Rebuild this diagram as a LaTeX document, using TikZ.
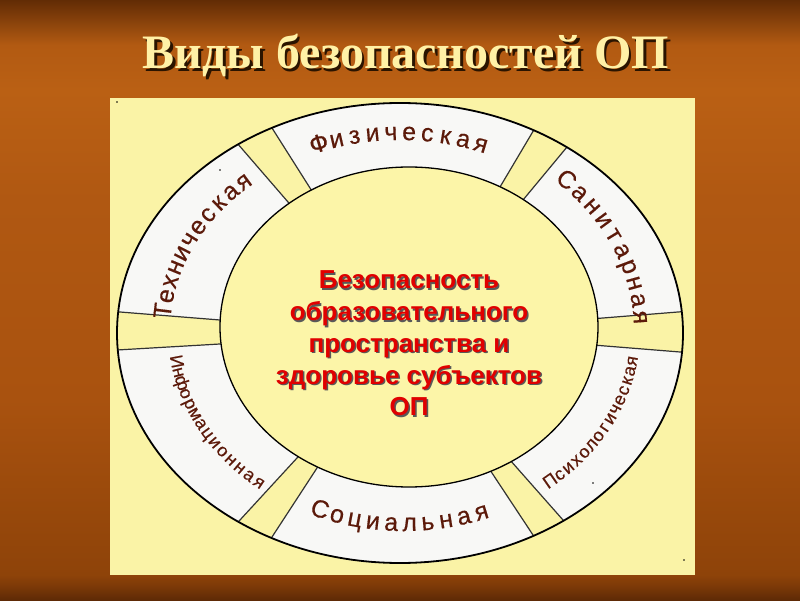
\documentclass[tikz,border=0pt]{standalone}
\usepackage{fontspec}
\setmainfont{Liberation Serif}
\newfontfamily\arialf{Liberation Sans}
\newfontfamily\lblf[FakeBold=0.4]{Liberation Sans}
\usetikzlibrary{calc}

\definecolor{b0}{HTML}{5E2A06}
\definecolor{b1}{HTML}{7E3A08}
\definecolor{b2}{HTML}{8E4309}
\definecolor{b3}{HTML}{A9520F}
\definecolor{b4}{HTML}{B05812}
\definecolor{b5}{HTML}{BA6014}
\definecolor{b6}{HTML}{B25A12}
\definecolor{b7}{HTML}{622C05}
\definecolor{panelY}{HTML}{FAF3A6}
\definecolor{innerY}{HTML}{FCF5A8}
\definecolor{segW}{HTML}{F8F8F6}
\definecolor{lblC}{HTML}{5C1A0A}
\definecolor{redT}{HTML}{E00000}
\definecolor{titleY}{HTML}{FFF1A6}
\definecolor{titleS}{HTML}{2A1400}

\pgfdeclareverticalshading{bgshade}{100bp}{color(0bp)=(b0); color(25bp)=(b0); color(26.25bp)=(b1); color(27.1bp)=(b2); color(41.7bp)=(b3); color(58.3bp)=(b4); color(67.5bp)=(b5); color(71.25bp)=(b6); color(75bp)=(b7); color(100bp)=(b7)}

\newcommand\fontbig{\lblf\fontsize{25}{25}\selectfont}
\newcommand\fontsmall{\lblf\fontsize{18}{18}\selectfont}
\newcommand\lbltrack{4}

% #1 font macro, #2 cx, #3 cy, #4 rx, #5 ry, #6 t0 (first letter centre), #7 t1 (last letter centre), #8 letters, #9 name
\newcommand\ringlabel[9]{%
  \gdef\mycum{0}%
  \foreach \ch [count=\k] in {#8} {%
    \setbox0=\hbox{#1\ch}%
    \pgfmathsetmacro\tmpw{\the\wd0}%
    \pgfmathsetmacro\tmpc{\mycum+\tmpw/2}%
    \expandafter\xdef\csname lc#9\k\endcsname{\tmpc}%
    \pgfmathsetmacro\newcum{\mycum+\tmpw+\lbltrack}%
    \xdef\mycum{\newcum}%
    \xdef\nlet{\k}%
  }%
  \pgfmathsetmacro\mysg{sign((#7)-(#6))}%
  \foreach \ch [count=\k] in {#8} {%
    \pgfmathsetmacro\myt{#6+((\csname lc#9\k\endcsname)-(\csname lc#91\endcsname))/((\csname lc#9\nlet\endcsname)-(\csname lc#91\endcsname))*((#7)-(#6))}%
    \pgfmathsetmacro\myrot{atan2((\mysg)*#5*cos(\myt), -1*(\mysg)*#4*sin(\myt))}%
    \node[lblbase, font=#1, rotate=\myrot, anchor=base] (#9-\k) at ({#2+#4*cos(\myt)}, {#3+#5*sin(\myt)}) {\ch};
  }%
}

\newcommand\gapband[4]{% inner1 outer1 inner2 outer2
  \fill[gapfill] ($(#1)!-0.5!(#2)$) -- ($(#2)!-0.6!(#1)$) -- ($(#4)!-0.6!(#3)$) -- ($(#3)!-0.5!(#4)$) -- cycle;
  \draw[gapline] ($(#1)!-0.5!(#2)$) -- ($(#2)!-0.6!(#1)$);
  \draw[gapline] ($(#3)!-0.5!(#4)$) -- ($(#4)!-0.6!(#3)$);
}

\tikzset{
  lblbase/.style={inner sep=0pt, outer sep=0pt, text=lblC},
  gapfill/.style={fill=panelY},
  gapline/.style={draw=black!80, line width=1.2pt},
  ctext/.style={align=center, inner sep=0pt, font=\arialf\bfseries\fontsize{26}{31.75}\selectfont},
  titlef/.style={inner sep=0pt, anchor=base, font=\bfseries\fontsize{48}{48}\selectfont},
  dotmark/.style={fill=black, inner sep=0pt, minimum size=1.8pt, circle}
}

\begin{document}
\begin{tikzpicture}[x=1pt, y=1pt]
\useasboundingbox (0,0) rectangle (800,600);
\shade[shading=bgshade] (0,0) rectangle (800,600);

% panel
\fill[panelY] (110,25) rectangle (695,502);

% ring base
\fill[segW] (400,267) ellipse [x radius=283, y radius=230];

% gap coordinates
\coordinate (ul1i) at (288,398); \coordinate (ul1o) at (237,457);
\coordinate (ul2i) at (310,412); \coordinate (ul2o) at (272,472);
\coordinate (ur1i) at (500,413); \coordinate (ur1o) at (535,472);
\coordinate (ur2i) at (523,400); \coordinate (ur2o) at (567,453);
\coordinate (r1i) at (603,282); \coordinate (r1o) at (678,288);
\coordinate (r2i) at (593,255); \coordinate (r2o) at (680,248);
\coordinate (lr1i) at (490,130); \coordinate (lr1o) at (533,65);
\coordinate (lr2i) at (510,140); \coordinate (lr2o) at (563,80);
\coordinate (ll1i) at (297,142); \coordinate (ll1o) at (240,80);
\coordinate (ll2i) at (317,132); \coordinate (ll2o) at (272,63);
\coordinate (l1i) at (220,280); \coordinate (l1o) at (120,288);
\coordinate (l2i) at (220,256); \coordinate (l2o) at (117,250);

\begin{scope}
  \clip (400,267) ellipse [x radius=283, y radius=230];
  \gapband{ul1i}{ul1o}{ul2i}{ul2o}
  \gapband{ur1i}{ur1o}{ur2i}{ur2o}
  \gapband{r1i}{r1o}{r2i}{r2o}
  \gapband{lr1i}{lr1o}{lr2i}{lr2o}
  \gapband{ll1i}{ll1o}{ll2i}{ll2o}
  \gapband{l1i}{l1o}{l2i}{l2o}
\end{scope}

% inner ellipse
\filldraw[fill=innerY, draw=black, line width=1.3pt] (409,273) ellipse [x radius=189, y radius=160];
% outer outline
\draw[black, line width=1.8pt] (400,267) ellipse [x radius=283, y radius=230];

% ring labels
\renewcommand\lbltrack{4}
\ringlabel{\fontbig}{400}{269}{230}{191}{110}{70}{Ф,и,з,и,ч,е,с,к,а,я}{fiz}
\ringlabel{\fontbig}{400}{269}{234}{200}{46.4}{3.8}{С,а,н,и,т,а,р,н,а,я}{san}
\ringlabel{\fontbig}{400}{269}{230}{191}{174.2}{131.4}{Т,е,х,н,и,ч,е,с,к,а,я}{teh}
\ringlabel{\fontbig}{404}{269}{236}{200}{248.5}{289.7}{С,о,ц,и,а,л,ь,н,а,я}{soc}
\renewcommand\lbltrack{1.5}
\ringlabel{\fontsmall}{404}{269}{236}{200}{189.1}{231.2}{И,н,ф,о,р,м,а,ц,и,о,н,н,а,я}{inf}
\ringlabel{\fontsmall}{404}{269}{236}{200}{-50.7}{-8.9}{П,с,и,х,о,л,о,г,и,ч,е,с,к,а,я}{psy}

% centre text
\node[ctext, text=black!65] (ctshadow) at (410.5,255) {Безопасность\\образовательного\\пространства и\\здоровье субъектов\\ОП};
\node[ctext, text=redT] (ct) at (409,256.5) {Безопасность\\образовательного\\пространства и\\здоровье субъектов\\ОП};

% title
\node[titlef, text=titleS] (titleshadow) at (408.5,528.5) {Виды безопасностей ОП};
\node[titlef, text=titleY] (title) at (406,531) {Виды безопасностей ОП};

% stray dots
\node[dotmark] (d1) at (117,498) {};
\node[dotmark] (d2) at (220,430) {};
\node[dotmark] (d3) at (593,117) {};
\node[dotmark] (d4) at (684,40) {};
\end{tikzpicture}
\end{document}
